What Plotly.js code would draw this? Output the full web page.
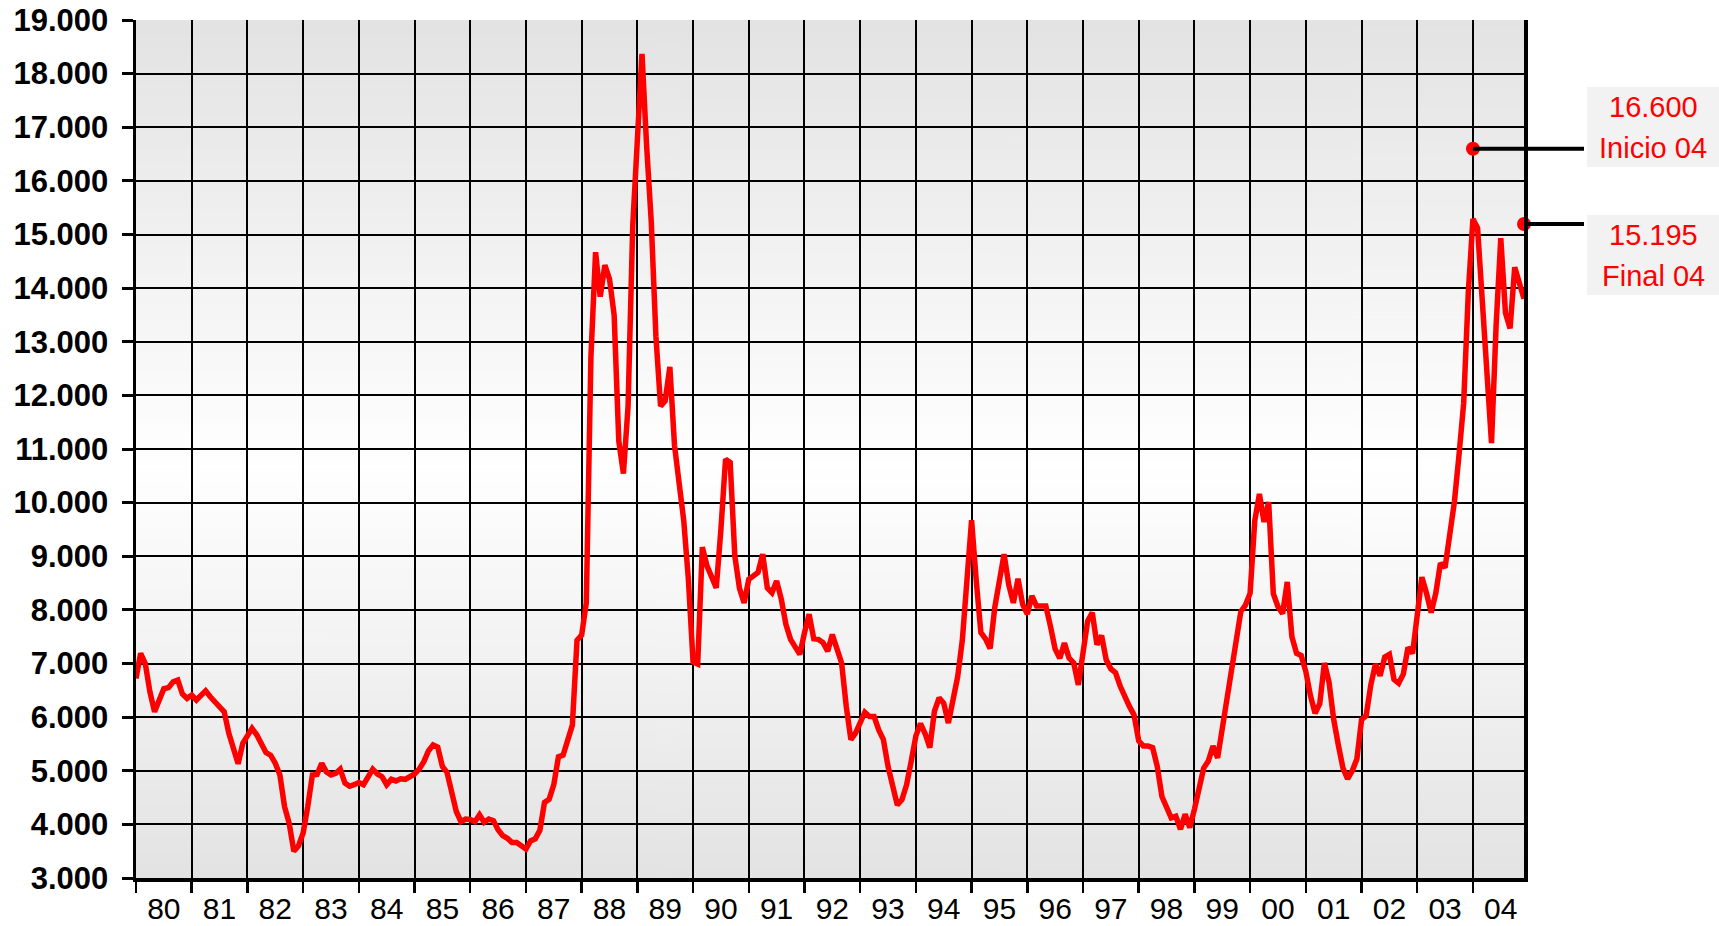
<!DOCTYPE html>
<html>
<head>
<meta charset="utf-8">
<script src="https://cdn.plot.ly/plotly-3.0.1.min.js"></script>
<style>
html,body{margin:0;padding:0;background:#fff;}
#chart{width:1719px;height:926px;}
</style>
</head>
<body>
<div id="chart"></div>
<script>
// Year labels (one per year, Jan 1980 .. Dec 2004, monthly data)
const yearLabels = ['80','81','82','83','84','85','86','87','88','89','90','91','92','93','94','95','96','97','98','99','00','01','02','03','04'];

// Monthly values, one array per year
const v1980 = [6720, 7190, 7000, 6470, 6100, 6290, 6530, 6550, 6660, 6690, 6430, 6350];
const v1981 = [6410, 6320, 6390, 6490, 6380, 6290, 6180, 6100, 5700, 5390, 5130, 5510];
const v1982 = [5670, 5790, 5670, 5520, 5340, 5290, 5140, 4920, 4330, 4020, 3500, 3600];
const v1983 = [3840, 4330, 4920, 4930, 5140, 4980, 4920, 4950, 5030, 4770, 4710, 4740];
const v1984 = [4780, 4740, 4900, 5030, 4940, 4890, 4740, 4840, 4810, 4850, 4840, 4880];
const v1985 = [4940, 5030, 5170, 5370, 5480, 5440, 5080, 4970, 4580, 4240, 4050, 4100];
const v1986 = [4090, 4050, 4180, 4040, 4100, 4070, 3900, 3790, 3740, 3660, 3660, 3610];
const v1987 = [3540, 3690, 3730, 3890, 4410, 4470, 4740, 5260, 5290, 5570, 5850, 7430];
const v1988 = [7530, 8130, 12720, 14670, 13840, 14430, 14170, 13500, 11150, 10540, 11800, 15150];
const v1989 = [16900, 18370, 16650, 15230, 13100, 11800, 11900, 12530, 11070, 10290, 9660, 8560];
const v1990 = [7030, 6990, 9170, 8820, 8630, 8410, 9500, 10810, 10750, 9000, 8400, 8130];
const v1991 = [8570, 8630, 8700, 9040, 8410, 8320, 8540, 8200, 7730, 7450, 7290, 7170];
const v1992 = [7570, 7920, 7460, 7450, 7390, 7230, 7540, 7260, 7010, 6200, 5580, 5700];
const v1993 = [5920, 6090, 6010, 6010, 5760, 5580, 5080, 4710, 4360, 4460, 4740, 5180];
const v1994 = [5650, 5880, 5690, 5430, 6110, 6360, 6260, 5890, 6330, 6750, 7430, 8550];
const v1995 = [9670, 8550, 7580, 7460, 7280, 8050, 8630, 9040, 8470, 8130, 8580, 8100];
const v1996 = [7920, 8260, 8070, 8080, 8070, 7690, 7270, 7100, 7380, 7100, 7010, 6600];
const v1997 = [7190, 7790, 7950, 7350, 7520, 7070, 6900, 6830, 6580, 6360, 6200, 6040];
const v1998 = [5560, 5460, 5460, 5430, 5080, 4520, 4330, 4120, 4150, 3910, 4190, 3940];
const v1999 = [4280, 4650, 5050, 5180, 5460, 5240, 5770, 6450, 6940, 7380, 7970, 8090];
const v2000 = [8310, 9660, 10160, 9640, 10010, 8300, 8060, 7930, 8520, 7500, 7190, 7150];
const v2001 = [6850, 6400, 6070, 6250, 7010, 6650, 5960, 5480, 5050, 4850, 5000, 5220];
const v2002 = [5950, 6030, 6600, 6990, 6770, 7120, 7170, 6700, 6630, 6800, 7300, 7190];
const v2003 = [7910, 8610, 8310, 7950, 8310, 8870, 8790, 9340, 10010, 10890, 11850, 13910];
const v2004 = [15290, 15120, 13690, 12440, 11110, 13320, 14930, 13540, 13250, 14390, 14130, 13800];

// Highlighted points
const markMonth  = [288, 299];          // Jan 2004, Dec 2004 (month index)
const markValue  = [16600, 15195];
const markLabel  = ['Inicio 04', 'Final 04'];

const values = [].concat(v1980,v1981,v1982,v1983,v1984,v1985,v1986,v1987,v1988,v1989,v1990,v1991,v1992,v1993,v1994,v1995,v1996,v1997,v1998,v1999,v2000,v2001,v2002,v2003,v2004);
const months = values.map((_, i) => i);

// Layout geometry
const W = 1719, H = 926;
const M = {l:136, r:195, t:20, b:48};
const plotW = W - M.l - M.r, plotH = H - M.t - M.b;
const xMax = values.length - 1;
const pxToPaperX = px => (px - M.l) / plotW;
const pxToPaperY = py => (H - M.b - py) / plotH;
const monthToPx = m => M.l + m / xMax * plotW;

const gridVals = yearLabels.map((_, i) => i * 12);
const labelVals = yearLabels.map((_, i) => i * 12 + 6);

function fmt(v){ return String(v).replace(/\B(?=(\d{3})+(?!\d))/g, '.'); }

// gradient background for plot area
const cv = document.createElement('canvas');
cv.width = 4; cv.height = 512;
const ctx = cv.getContext('2d');
const g = ctx.createLinearGradient(0,0,0,512);
g.addColorStop(0, '#e3e3e3');
g.addColorStop(0.52, '#ffffff');
g.addColorStop(1, '#e3e3e3');
ctx.fillStyle = g; ctx.fillRect(0,0,4,512);
const bgURL = cv.toDataURL('image/png');

const FONT = 'Liberation Sans, Arial, Helvetica, sans-serif';

const traces = [
  {x: months, y: values, type:'scatter', mode:'lines',
   line:{color:'#ff0000', width:5.5}, hoverinfo:'skip', cliponaxis:false},
  {x: markMonth, y: markValue, type:'scatter', mode:'markers',
   marker:{color:'#ff0000', size:14}, hoverinfo:'skip', cliponaxis:false},
  // carrier trace so the label axis (x2) is drawn
  {x: [0, xMax], y: [null, null], xaxis:'x2', yaxis:'y', type:'scatter', mode:'lines',
   hoverinfo:'skip', showlegend:false}
];

const boxLeftPx = 1587, boxRightPx = 1719, boxH = 80;
const boxTopPx = [87, 215];
const shapes = [], annotations = [];
markMonth.forEach((m, i) => {
  const top = boxTopPx[i];
  shapes.push({type:'rect', xref:'paper', yref:'paper',
    x0: pxToPaperX(boxLeftPx), x1: pxToPaperX(boxRightPx),
    y0: pxToPaperY(top + boxH), y1: pxToPaperY(top),
    fillcolor:'#f2f2f2', line:{width:0}});
  annotations.push({x: m, y: markValue[i], xref:'x', yref:'y', text:' ',
    showarrow:true, arrowhead:0, arrowwidth:4, arrowcolor:'#000',
    ax: boxLeftPx - monthToPx(m), ay: 0, axref:'pixel', ayref:'pixel',
    standoff:0, startstandoff:0});
  const cx = pxToPaperX((boxLeftPx + boxRightPx) / 2);
  annotations.push({xref:'paper', yref:'paper', x: cx, y: pxToPaperY(top + 20),
    xanchor:'center', yanchor:'middle', showarrow:false, text: fmt(markValue[i]),
    font:{family:FONT, size:29, color:'#ff0000'}});
  annotations.push({xref:'paper', yref:'paper', x: cx, y: pxToPaperY(top + 61),
    xanchor:'center', yanchor:'middle', showarrow:false, text: markLabel[i],
    font:{family:FONT, size:29, color:'#ff0000'}});
});

const layout = {
  width: W, height: H,
  margin: {l:M.l, r:M.r, t:M.t, b:M.b, pad:0},
  paper_bgcolor:'#ffffff', plot_bgcolor:'rgba(0,0,0,0)',
  separators: ',.',
  showlegend:false,
  font:{family:FONT, color:'#000'},
  images:[{source:bgURL, xref:'paper', yref:'paper', x:0, y:1, sizex:1, sizey:1,
    xanchor:'left', yanchor:'top', sizing:'stretch', layer:'below'}],
  xaxis:{range:[0, xMax], tickmode:'array', tickvals:gridVals, ticktext:gridVals.map(()=>''),
    showgrid:true, gridcolor:'#000', gridwidth:2,
    ticks:'outside', ticklen:11, tickwidth:2.5, tickcolor:'#000',
    showline:true, linecolor:'#000', linewidth:3.5, zeroline:false, fixedrange:true},
  xaxis2:{overlaying:'x', anchor:'y', side:'bottom', range:[0, xMax], tickmode:'array',
    tickvals:labelVals, ticktext:yearLabels, showgrid:false, ticks:'', showline:false,
    zeroline:false, ticklabelstandoff:10,
    tickfont:{family:FONT, size:30, color:'#000'}, fixedrange:true},
  yaxis:{range:[3000, 19000], tick0:3000, dtick:1000, tickformat:',d',
    showgrid:true, gridcolor:'#000', gridwidth:2,
    ticks:'outside', ticklen:11, tickwidth:3, tickcolor:'#000',
    showline:true, linecolor:'#000', linewidth:3.5, mirror:true, zeroline:false,
    ticklabelstandoff:7,
    tickfont:{family:FONT, size:31, weight:'bold', color:'#000'}, fixedrange:true},
  shapes: shapes,
  annotations: annotations
};

Plotly.newPlot('chart', traces, layout, {displayModeBar:false, staticPlot:true});
</script>
</body>
</html>
